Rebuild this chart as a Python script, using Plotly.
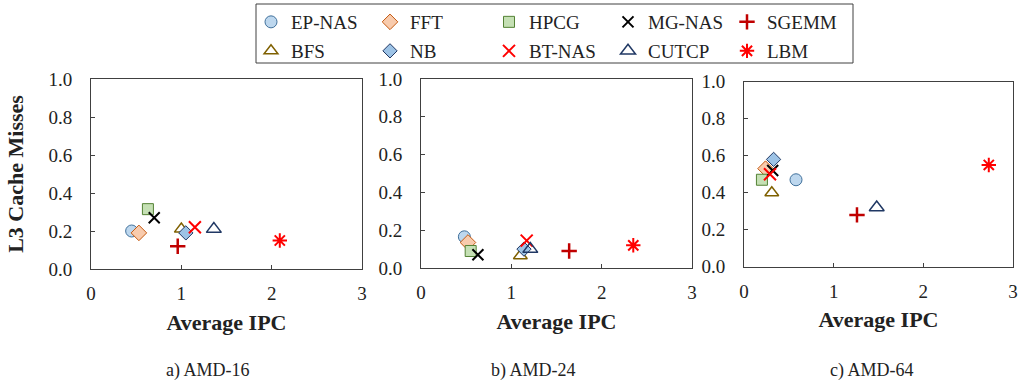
import plotly.graph_objects as go

W, H = 1019, 387

benchmarks = ["EP-NAS", "FFT", "HPCG", "MG-NAS", "SGEMM",
              "BFS", "NB", "BT-NAS", "CUTCP", "LBM"]

# Average IPC / L3 cache misses per platform (same order as benchmarks)
amd16_ipc = [0.45, 0.53, 0.63, 0.70, 0.96, 1.00, 1.05, 1.15, 1.36, 2.09]
amd16_l3 = [0.20, 0.19, 0.315, 0.27, 0.12, 0.21, 0.19, 0.22, 0.21, 0.15]

amd24_ipc = [0.48, 0.52, 0.55, 0.63, 1.64, 1.10, 1.14, 1.17, 1.21, 2.35]
amd24_l3 = [0.165, 0.135, 0.09, 0.07, 0.09, 0.065, 0.10, 0.145, 0.10, 0.12]

amd64_ipc = [0.58, 0.24, 0.20, 0.32, 1.26, 0.31, 0.33, 0.29, 1.48, 2.73]
amd64_l3 = [0.47, 0.53, 0.47, 0.52, 0.28, 0.40, 0.58, 0.50, 0.32, 0.55]

panel_titles = ["a) AMD-16", "b) AMD-24", "c) AMD-64"]
x_ticks = [0, 1, 2, 3]
y_ticks = [0.0, 0.2, 0.4, 0.6, 0.8, 1.0]

styles = {
    "EP-NAS": dict(symbol="circle", size=12, color="#BDD7EE", line=dict(color="#41719C", width=1)),
    "FFT": dict(symbol="diamond", size=12, color="#F8CBAD", line=dict(color="#C55A11", width=1)),
    "HPCG": dict(symbol="square", size=11, color="#C5E0B4", line=dict(color="#548235", width=1)),
    "MG-NAS": dict(symbol="x-thin-open", size=11, color="#000000", line=dict(color="#000000", width=2)),
    "SGEMM": dict(symbol="cross-thin-open", size=11, color="#C00000", line=dict(color="#C00000", width=2.5)),
    "BFS": dict(symbol="triangle-up-open", size=12, color="#7F6000", line=dict(color="#7F6000", width=1.5)),
    "NB": dict(symbol="diamond", size=11, color="#9DC3E6", line=dict(color="#203864", width=1)),
    "BT-NAS": dict(symbol="x-thin-open", size=12, color="#FF0000", line=dict(color="#FF0000", width=2)),
    "CUTCP": dict(symbol="triangle-up-open", size=13, color="#203864", line=dict(color="#203864", width=1.5)),
    "LBM": dict(symbol="asterisk-open", size=12, color="#FF0000", line=dict(color="#FF0000", width=2)),
}

FONT = "Liberation Serif, Times New Roman, Times, serif"
panels = [(amd16_ipc, amd16_l3), (amd24_ipc, amd24_l3), (amd64_ipc, amd64_l3)]

fig = go.Figure()
for p, (xs, ys) in enumerate(panels):
    xa = "x" if p == 0 else f"x{p+1}"
    ya = "y" if p == 0 else f"y{p+1}"
    for i, name in enumerate(benchmarks):
        fig.add_trace(go.Scatter(
            x=[xs[i]], y=[ys[i]], mode="markers", name=name,
            marker=styles[name], xaxis=xa, yaxis=ya,
            showlegend=(p == 0),
            legend="legend" if i < 5 else "legend2",
        ))

xdomains = [[91 / W, 362 / W], [421 / W, 692 / W], [744 / W, 1013 / W]]
ydomains = [[1 - 269 / H, 1 - 79 / H], [1 - 268 / H, 1 - 79 / H], [1 - 266.7 / H, 1 - 81.7 / H]]

axis_common = dict(
    showline=True, mirror=True, linecolor="#404040", linewidth=1, automargin=False,
    ticks="inside", ticklen=4, tickcolor="#404040", showgrid=False, zeroline=False,
    tickfont=dict(family=FONT, size=19, color="#222"),
)
layout = dict(
    template="none",
    width=W, height=H, margin=dict(l=0, r=0, t=0, b=0, autoexpand=False),
    plot_bgcolor="white", paper_bgcolor="white",
    font=dict(family=FONT, color="#222"),
)
for p in range(3):
    sx = "" if p == 0 else str(p + 1)
    layout[f"xaxis{sx}"] = dict(
        domain=xdomains[p], range=[0, 3], tickvals=x_ticks, anchor=f"y{sx}",
        ticklabelstandoff=7,
        title=dict(text="<b>Average IPC</b>", font=dict(family=FONT, size=22, color="#222"), standoff=11),
        **axis_common)
    layout[f"yaxis{sx}"] = dict(
        domain=ydomains[p], range=[0, 1], tickvals=y_ticks, tickformat=".1f", anchor=f"x{sx}",
        ticklabelstandoff=14,
        title=dict(text="<b>L3 Cache Misses</b>" if p == 0 else "",
                   font=dict(family=FONT, size=22, color="#222"), standoff=18),
        **axis_common)

legend_common = dict(
    orientation="h", xanchor="left", yanchor="top", entrywidth=74, entrywidthmode="pixels",
    font=dict(family=FONT, size=19, color="#222"), bgcolor="rgba(0,0,0,0)", borderwidth=0,
    itemwidth=30, tracegroupgap=0,
)
layout["legend"] = dict(x=251 / W, y=1 - 3 / H, **legend_common)
layout["legend2"] = dict(x=251 / W, y=1 - 32 / H, **legend_common)

layout["shapes"] = [dict(type="rect", xref="paper", yref="paper",
                         x0=256 / W, x1=853 / W, y0=1 - 63 / H, y1=1 - 4 / H,
                         line=dict(color="#404040", width=1))]

caption_x = [208, 533, 872]
layout["annotations"] = [
    dict(text=t, x=cx / W, y=1 - 370 / H, xref="paper", yref="paper",
         xanchor="center", yanchor="middle",
         showarrow=False, font=dict(family=FONT, size=18, color="#222"))
    for t, cx in zip(panel_titles, caption_x)
]

fig.update_layout(**layout)
fig.write_html("out.html", config={"displayModeBar": False},
               post_script="document.body.style.margin='0';document.body.style.padding='0';")
